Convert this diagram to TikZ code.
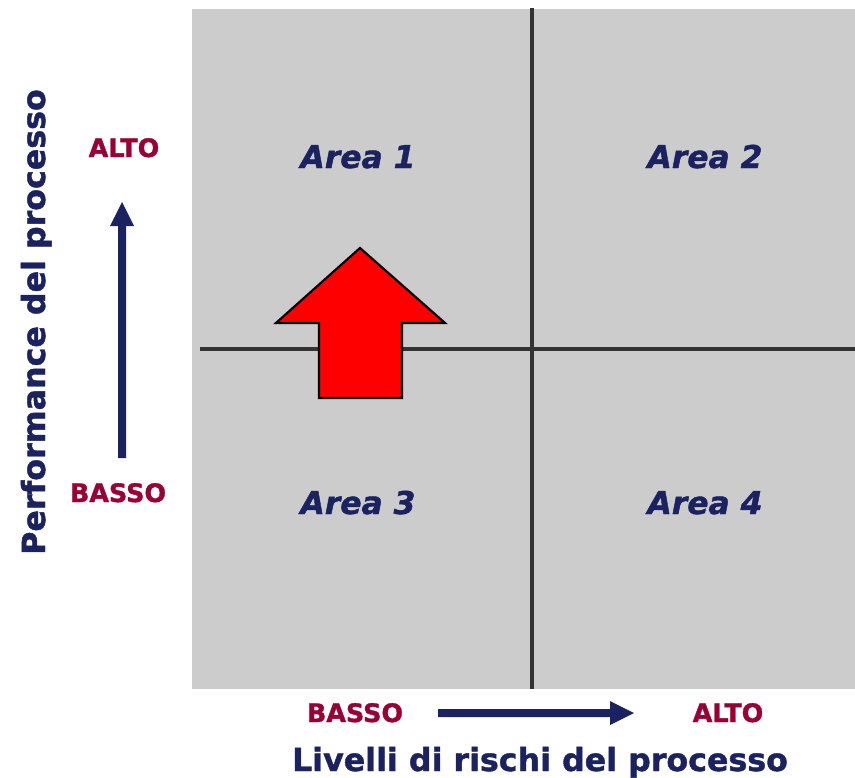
\documentclass[tikz,border=0pt]{standalone}
\usepackage{fontspec}
\setmainfont{DejaVu Sans}[BoldFeatures={FakeBold=1.3},BoldItalicFeatures={FakeBold=1.3}]
\definecolor{navy}{RGB}{27,34,96}
\definecolor{maroon}{RGB}{153,0,51}
\definecolor{quad}{RGB}{204,204,204}
\definecolor{divider}{RGB}{51,51,51}
\begin{document}
\begin{tikzpicture}[x=1bp,y=-1bp,
  arealabel/.style={font=\fontsize{31.5}{31.5}\selectfont\bfseries\itshape, text=navy, anchor=base, inner sep=0pt},
  levellabel/.style={font=\fontsize{25.5}{25.5}\selectfont\bfseries, text=maroon, anchor=base, inner sep=0pt},
  axistitle/.style={font=\fontsize{31.8}{31.8}\selectfont\bfseries, text=navy, anchor=base, inner sep=0pt},
  divline/.style={draw=divider, line width=3.5bp},
  axisarrow/.style={fill=navy, draw=none},
  bigarrow/.style={fill=red, draw=black, line width=2.2bp, line join=miter}]
\useasboundingbox (0,0) rectangle (855,778);
% quadrant background
\fill[quad] (192,9) rectangle (855,689);
% dividers
\coordinate (vtop) at (532,8);
\coordinate (vbot) at (532,689);
\coordinate (hleft) at (200,349);
\coordinate (hright) at (855,349);
\draw[divline] (vtop) -- (vbot);
\draw[divline] (hleft) -- (hright);
% area labels
\node[arealabel] (a1) at (358,168) {Area 1};
\node[arealabel] (a2) at (705,168) {Area 2};
\node[arealabel] (a3) at (358,514) {Area 3};
\node[arealabel] (a4) at (705,514) {Area 4};
% red arrow
\draw[bigarrow] (360,248) -- (445,323) -- (402,323) -- (402,398) -- (319,398) -- (319,323) -- (276,323) -- cycle;
% vertical axis
\node[levellabel] (valto) at (124,157) {ALTO};
\node[levellabel] (vbasso) at (118,502) {BASSO};
\fill[axisarrow] (118,458) -- (118,226) -- (110,226) -- (122,202) -- (134,226) -- (126,226) -- (126,458) -- cycle;
\node[axistitle, rotate=90] (vtitle) at (45,322) {Performance del processo};
% horizontal axis
\node[levellabel] (hbasso) at (355,722) {BASSO};
\node[levellabel] (halto) at (728,722) {ALTO};
\fill[axisarrow] (438,709) -- (610,709) -- (610,701) -- (634,713) -- (610,725) -- (610,717) -- (438,717) -- cycle;
\node[axistitle] (htitle) at (540,771) {Livelli di rischi del processo};
\end{tikzpicture}
\end{document}
